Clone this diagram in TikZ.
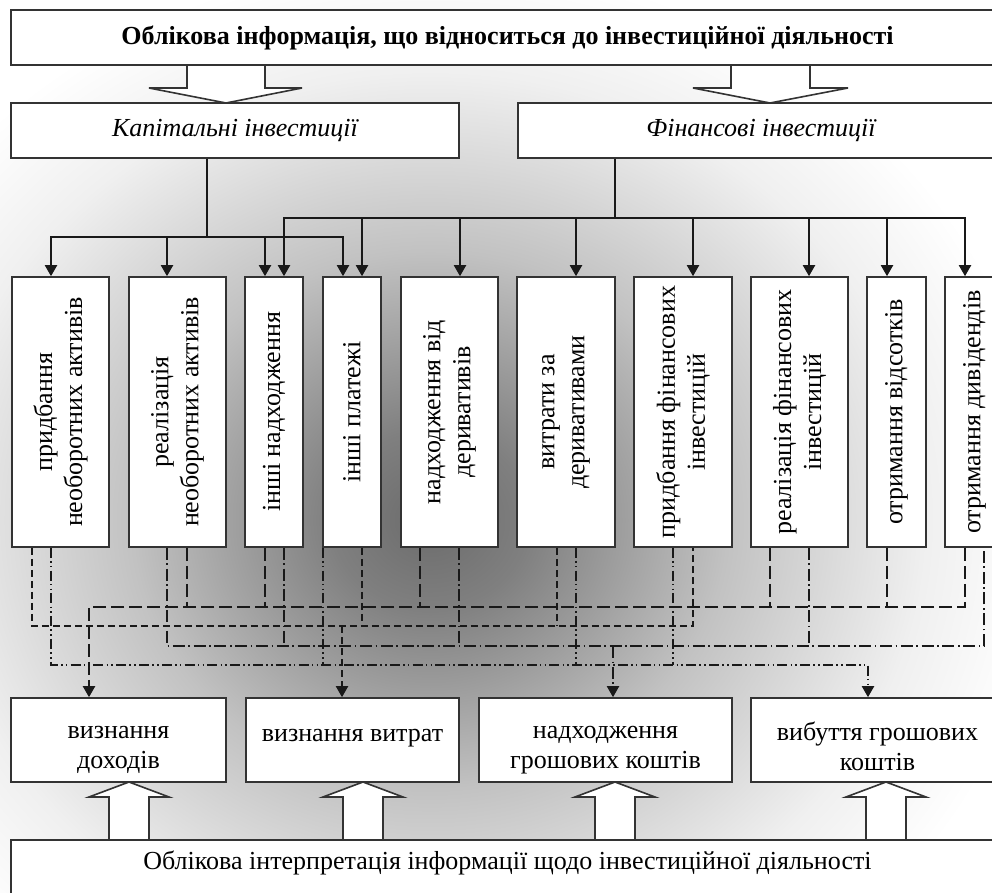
\documentclass[tikz,border=0pt]{standalone}
\usepackage{fontspec}
\setmainfont{Liberation Serif}
\usetikzlibrary{arrows.meta}

\pgfdeclareradialshading{midglow}{\pgfpoint{0bp}{0bp}}{%
  color(0bp)=(black!58); color(4bp)=(black!50); color(12bp)=(black!24);
  color(20bp)=(black!6); color(25bp)=(white); color(50bp)=(white)}

\begin{document}
\fontsize{13pt}{15pt}\selectfont
\begin{tikzpicture}[x=0.5pt,y=-0.5pt,
    box/.style={draw=black!80,line width=0.8pt,fill=white,align=center,inner sep=1pt},
    rowbox/.style={box,rotate=90,minimum width=135pt},
    outbox/.style={box,minimum height=42pt,text height=31pt},
    link/.style={draw=black!90,line width=1pt},
    tip/.style={-{Triangle[width=6pt,length=5.5pt]}},
    incl/.style={link,dash pattern=on 6.5pt off 2.5pt},
    expl/.style={link,dash pattern=on 3.5pt off 2pt},
    inflow/.style={link,dash pattern=on 6pt off 1.8pt on 0.8pt off 1.8pt},
    outflow/.style={link,dash pattern=on 5pt off 1.6pt on 0.8pt off 1.6pt on 0.8pt off 1.6pt},
    hollow/.style={draw=black!80,line width=0.8pt,fill=white}]

  \useasboundingbox (0,0) rectangle (992,893);
  \clip (0,0) rectangle (992,893);
  \path[shading=midglow] (-190,-40) rectangle (1050,1080);

  % block arrows
  \draw[hollow] (187,65) -- (187,88) -- (149,88) -- (226,103) -- (302,88) -- (265,88) -- (265,65);
  \draw[hollow] (731,65) -- (731,88) -- (693,88) -- (770,103) -- (848,88) -- (810,88) -- (810,65);
  \foreach \x in {129,363,615,886}
    \draw[hollow] (\x-20,840) -- (\x-20,797) -- (\x-40,797) -- (\x,782) -- (\x+40,797) -- (\x+20,797) -- (\x+20,840);

  \node[box,minimum width=496.5pt,minimum height=27.5pt,font=\bfseries] (top) at (507.5,37.5) {Облікова інформація, що відноситься до інвестиційної діяльності};
  \node[box,minimum width=224pt,minimum height=27.5pt,font=\itshape] (kap) at (235,130.5) {Капітальні інвестиції};
  \node[box,minimum width=243pt,minimum height=27.5pt,font=\itshape] (fin) at (761,130.5) {Фінансові інвестиції};

  \node[rowbox,minimum height=48.5pt] (r1) at (60.5,412) {придбання\\необоротних активів};
  \node[rowbox,minimum height=48.5pt] (r2) at (177.5,412) {реалізація\\необоротних активів};
  \node[rowbox,minimum height=29pt] (r3) at (274,412) {інші надходження};
  \node[rowbox,minimum height=29pt] (r4) at (352,412) {інші платежі};
  \node[rowbox,minimum height=48.5pt] (r5) at (449.5,412) {надходження від\\деривативів};
  \node[rowbox,minimum height=49pt] (r6) at (566,412) {витрати за\\деривативами};
  \node[rowbox,minimum height=49pt] (r7) at (683,412) {придбання фінансових\\інвестицій};
  \node[rowbox,minimum height=48.5pt] (r8) at (799.5,412) {реалізація фінансових\\інвестицій};
  \node[rowbox,minimum height=29.5pt] (r9) at (896.5,412) {отримання відсотків};
  \node[rowbox,minimum height=29.5pt] (r10) at (974.5,412) {отримання дивідендів};

  \node[outbox,minimum width=107.5pt] (o1) at (118.5,740) {визнання\\доходів};
  \node[outbox,minimum width=106.5pt] (o2) at (352.5,740) {визнання витрат\\\mbox{}};
  \node[outbox,minimum width=126.5pt] (o3) at (605.5,740) {надходження\\грошових коштів};
  \node[outbox,minimum width=126.5pt] (o4) at (877.5,740) {вибуття грошових\\коштів};

  \node[box,minimum width=496.5pt,minimum height=30pt,text depth=10pt] (bot) at (507.5,870) {Облікова інтерпретація інформації щодо інвестиційної діяльності};

  % solid links
  \coordinate (kbus) at (207,237);
  \coordinate (fbus) at (615,218);
  \draw[link] (kap.south -| kbus) -- (kbus);
  \draw[link] (fin.south -| fbus) -- (fbus);
  \foreach \x/\r in {51/r1,167/r2,265/r3,343/r4}
    \draw[link,tip] (kbus) -| (\r.east -| \x,0);
  \foreach \x/\r in {284/r3,362/r4,460/r5,576/r6,693/r7,809/r8,887/r9,965/r10}
    \draw[link,tip] (fbus) -| (\r.east -| \x,0);

  % income
  \coordinate (j1) at (89,607);
  \draw[incl,tip] (r10.west -| 965,0) -- (965,607) -- (j1) -- (o1.north -| j1);
  \foreach \x/\r in {187/r2,265/r3,420/r5,770/r8,887/r9}
    \draw[incl] (\r.west -| \x,0) -- (\x,607);
  % expenses
  \coordinate (j2) at (342,626);
  \draw[expl] (r1.west -| 32,0) -- (32,626) -- (693,626) -- (r7.west -| 693,0);
  \draw[expl,tip] (j2) -- (o2.north -| j2);
  \foreach \x/\r in {362/r4,557/r6}
    \draw[expl] (\r.west -| \x,0) -- (\x,626);
  % cash in
  \coordinate (j3) at (613,646);
  \draw[inflow] (r2.west -| 167,0) -- (167,646) -- (984,646) -- (r10.west -| 984,0);
  \draw[inflow,tip] (j3) -- (o3.north -| j3);
  \foreach \x/\r in {284/r3,459/r5,809/r8}
    \draw[inflow] (\r.west -| \x,0) -- (\x,646);
  % cash out
  \coordinate (j4) at (868,665);
  \draw[outflow,tip] (r1.west -| 51,0) -- (51,665) -- (j4) -- (o4.north -| j4);
  \foreach \x/\r in {323/r4,576/r6,673/r7}
    \draw[outflow] (\r.west -| \x,0) -- (\x,665);

\end{tikzpicture}
\end{document}
